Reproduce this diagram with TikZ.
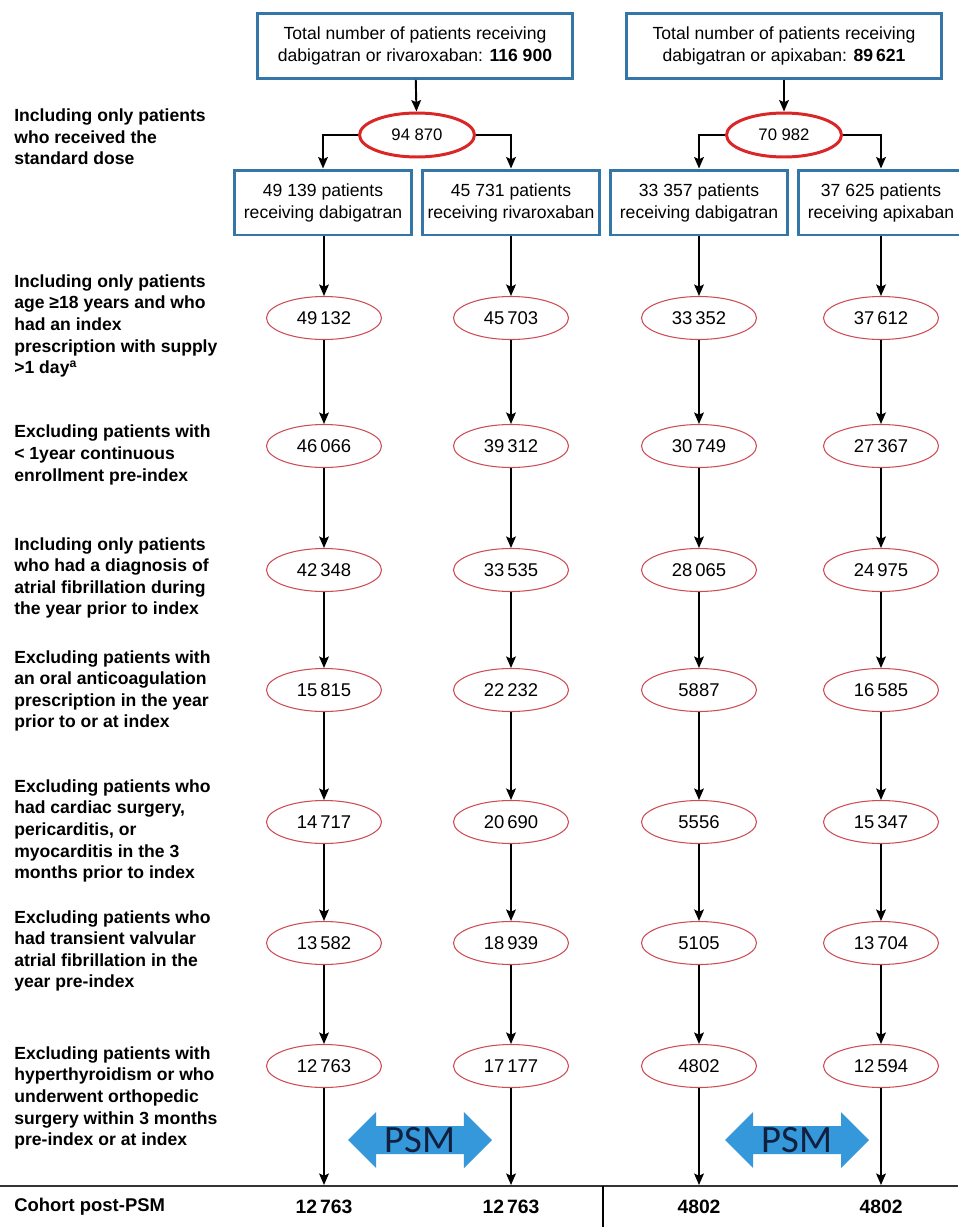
\documentclass[tikz,border=0pt]{standalone}
\usepackage{fontspec}
\setmainfont{Liberation Sans}
\newfontfamily\psmfont{Carlito}
\usepackage{tikz}
\usetikzlibrary{positioning,arrows.meta,shapes}
\usepackage{xcolor}
\definecolor{boxblue}{RGB}{52,118,168}
\definecolor{ovalred}{RGB}{218,38,38}
\definecolor{thinred}{RGB}{205,75,85}
\definecolor{psmblue}{RGB}{52,152,219}
\definecolor{psmtext}{RGB}{18,32,62}

\begin{document}
\begin{tikzpicture}[x=0.02cm, y=-0.02cm,
    topbox/.style={draw=boxblue, line width=1.7pt, minimum width=6.3cm, minimum height=1.3cm, align=center, font=\fontsize{10}{12.5}\selectfont},
    armbox/.style={draw=boxblue, line width=1.7pt, minimum width=3.54cm, minimum height=1.3cm, inner sep=1pt, align=center, font=\fontsize{10}{12.5}\selectfont},
    bigoval/.style={ellipse, draw=ovalred, line width=1.7pt, minimum width=2.3cm, minimum height=0.88cm, inner sep=0pt, font=\fontsize{9.5}{11}\selectfont},
    oval/.style={ellipse, draw=thinred, line width=0.6pt, minimum width=2.3cm, minimum height=0.86cm, inner sep=0pt, font=\fontsize{10.5}{12}\selectfont},
    crit/.style={anchor=west, align=left, inner sep=0pt, font=\bfseries\fontsize{10}{12.3}\selectfont},
    flow/.style={line width=1.1pt, ->, >={Stealth[length=6.5pt, width=5.5pt, inset=1.2pt]}},
    psm/.style={double arrow, fill=psmblue, minimum height=2.88cm, minimum width=1.12cm, double arrow head extend=0.26cm, inner sep=0pt, text=psmtext, font=\psmfont\fontsize{22}{22}\selectfont},
    total/.style={font=\bfseries\fontsize{11}{13}\selectfont}]
    \useasboundingbox (0,0) rectangle (958,1227);

    % Totals
    \node[topbox] (top1) at (415,46) {Total number of patients receiving\\dabigatran or rivaroxaban: \textbf{116 900}};
    \node[topbox] (top2) at (784,46) {Total number of patients receiving\\dabigatran or apixaban: \textbf{89\,621}};

    % Standard dose
    \node[bigoval] (big1) at (417,135) {94 870};
    \node[bigoval] (big2) at (784,135) {70 982};
    \draw[flow] (top1) -- (big1);
    \draw[flow] (top2) -- (big2);

    % Drug arms
    \node[armbox] (arm1) at (323,202.5) {49 139 patients\\receiving dabigatran};
    \node[armbox] (arm2) at (511,202.5) {45 731 patients\\receiving rivaroxaban};
    \node[armbox] (arm3) at (699,202.5) {33 357 patients\\receiving dabigatran};
    \node[armbox, minimum width=3.3cm] (arm4) at (881,202.5) {37 625 patients\\receiving apixaban};
    \draw[flow] (big1.west) -| (arm1.north);
    \draw[flow] (big1.east) -| (arm2.north);
    \draw[flow] (big2.west) -| (arm3.north);
    \draw[flow] (big2.east) -| (arm4.north);

    % Criteria
    \node[crit] (lab0) at (14,137) {Including only patients\\who received the\\standard dose};
    \node[crit] (lab1) at (14,326) {Including only patients\\age ≥18 years and who\\had an index\\prescription with supply\\>1 day\textsuperscript{a}};
    \node[crit] (lab2) at (14,455) {Excluding patients with\\< 1year continuous\\enrollment pre-index};
    \node[crit] (lab3) at (14,578) {Including only patients\\who had a diagnosis of\\atrial fibrillation during\\the year prior to index};
    \node[crit] (lab4) at (14,691) {Excluding patients with\\an oral anticoagulation\\prescription in the year\\prior to or at index};
    \node[crit] (lab5) at (14,831) {Excluding patients who\\had cardiac surgery,\\pericarditis, or\\myocarditis in the 3\\months prior to index};
    \node[crit] (lab6) at (14,951) {Excluding patients who\\had transient valvular\\atrial fibrillation in the\\year pre-index};
    \node[crit] (lab7) at (14,1098) {Excluding patients with\\hyperthyroidism or who\\underwent orthopedic\\surgery within 3 months\\pre-index or at index};

    % Counts, row by row
    \node[oval] (r1c1) at (324,318) {49\,132};
    \node[oval] (r1c2) at (511,318) {45\,703};
    \node[oval] (r1c3) at (699,318) {33\,352};
    \node[oval] (r1c4) at (881,318) {37\,612};

    \node[oval] (r2c1) at (324,446) {46\,066};
    \node[oval] (r2c2) at (511,446) {39\,312};
    \node[oval] (r2c3) at (699,446) {30\,749};
    \node[oval] (r2c4) at (881,446) {27\,367};

    \node[oval] (r3c1) at (324,570) {42\,348};
    \node[oval] (r3c2) at (511,570) {33\,535};
    \node[oval] (r3c3) at (699,570) {28\,065};
    \node[oval] (r3c4) at (881,570) {24\,975};

    \node[oval] (r4c1) at (324,690) {15\,815};
    \node[oval] (r4c2) at (511,690) {22\,232};
    \node[oval] (r4c3) at (699,690) {5887};
    \node[oval] (r4c4) at (881,690) {16\,585};

    \node[oval] (r5c1) at (324,822) {14\,717};
    \node[oval] (r5c2) at (511,822) {20\,690};
    \node[oval] (r5c3) at (699,822) {5556};
    \node[oval] (r5c4) at (881,822) {15\,347};

    \node[oval] (r6c1) at (324,943) {13\,582};
    \node[oval] (r6c2) at (511,943) {18\,939};
    \node[oval] (r6c3) at (699,943) {5105};
    \node[oval] (r6c4) at (881,943) {13\,704};

    \node[oval] (r7c1) at (324,1066) {12\,763};
    \node[oval] (r7c2) at (511,1066) {17\,177};
    \node[oval] (r7c3) at (699,1066) {4802};
    \node[oval] (r7c4) at (881,1066) {12\,594};

    % Arrows down each column
    \draw[flow] (arm1.south -| r1c1) -- (r1c1);
    \draw[flow] (r1c1) -- (r2c1);
    \draw[flow] (r2c1) -- (r3c1);
    \draw[flow] (r3c1) -- (r4c1);
    \draw[flow] (r4c1) -- (r5c1);
    \draw[flow] (r5c1) -- (r6c1);
    \draw[flow] (r6c1) -- (r7c1);

    \draw[flow] (arm2) -- (r1c2);
    \draw[flow] (r1c2) -- (r2c2);
    \draw[flow] (r2c2) -- (r3c2);
    \draw[flow] (r3c2) -- (r4c2);
    \draw[flow] (r4c2) -- (r5c2);
    \draw[flow] (r5c2) -- (r6c2);
    \draw[flow] (r6c2) -- (r7c2);

    \draw[flow] (arm3.south -| r1c3) -- (r1c3);
    \draw[flow] (r1c3) -- (r2c3);
    \draw[flow] (r2c3) -- (r3c3);
    \draw[flow] (r3c3) -- (r4c3);
    \draw[flow] (r4c3) -- (r5c3);
    \draw[flow] (r5c3) -- (r6c3);
    \draw[flow] (r6c3) -- (r7c3);

    \draw[flow] (arm4.south -| r1c4) -- (r1c4);
    \draw[flow] (r1c4) -- (r2c4);
    \draw[flow] (r2c4) -- (r3c4);
    \draw[flow] (r3c4) -- (r4c4);
    \draw[flow] (r4c4) -- (r5c4);
    \draw[flow] (r5c4) -- (r6c4);
    \draw[flow] (r6c4) -- (r7c4);

    % Matching
    \node[psm] (psm1) at (420,1140) {PSM};
    \node[psm] (psm2) at (797,1140) {PSM};

    % Cohort line
    \coordinate (end1) at (324,1185);
    \coordinate (end2) at (511,1185);
    \coordinate (end3) at (699,1185);
    \coordinate (end4) at (881,1185);
    \draw[flow] (r7c1) -- (end1);
    \draw[flow] (r7c2) -- (end2);
    \draw[flow] (r7c3) -- (end3);
    \draw[flow] (r7c4) -- (end4);
    \draw[line width=1pt, black!80] (0,1186) -- (958,1186);
    \draw[line width=0.6pt] (603,1186) -- (603,1227);

    \node[crit] (cohort) at (14,1207) {\fontsize{10.5}{12}\selectfont Cohort post-PSM};
    \node[total] (fin1) at (324,1207) {12\,763};
    \node[total] (fin2) at (511,1207) {12\,763};
    \node[total] (fin3) at (699,1207) {4802};
    \node[total] (fin4) at (881,1207) {4802};
\end{tikzpicture}
\end{document}
